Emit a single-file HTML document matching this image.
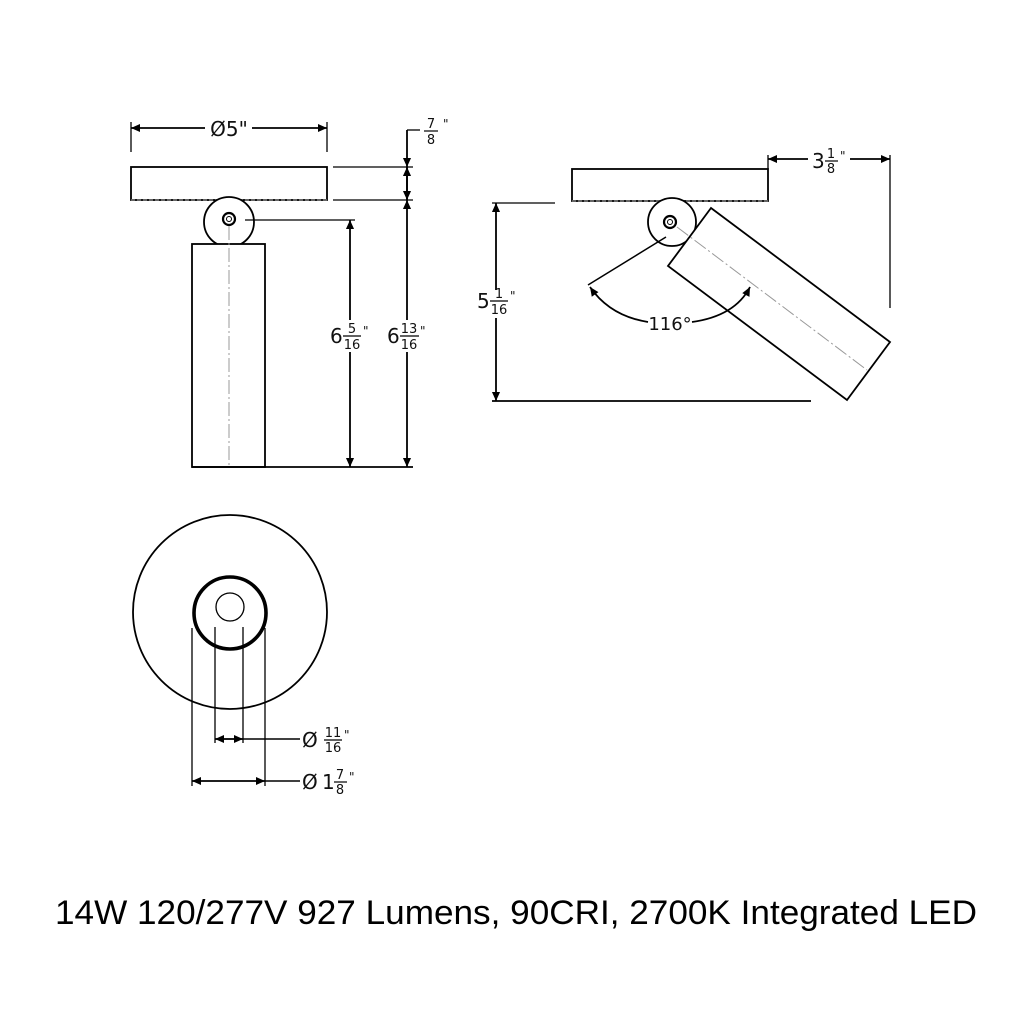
<!DOCTYPE html>
<html><head><meta charset="utf-8"><style>
html,body{margin:0;padding:0;background:#fff;}
svg{display:block}
.d{font-family:"DejaVu Sans","Liberation Sans",sans-serif;fill:#111}
</style></head><body>
<svg width="1024" height="1024" viewBox="0 0 1024 1024" xmlns="http://www.w3.org/2000/svg">
<defs>
<marker id="a" viewBox="0 0 10 10" refX="10" refY="5" markerWidth="13" markerHeight="9" orient="auto-start-reverse" markerUnits="userSpaceOnUse"><path d="M0,0.5 L10,5 L0,9.5 Z" fill="#000"/></marker>
</defs>
<rect width="1024" height="1024" fill="#fff"/>
<g stroke="#000" stroke-width="1.8" fill="none">
<!-- FRONT VIEW -->
<rect x="131" y="167" width="196" height="33"/>
<line x1="131" y1="200" x2="327" y2="200" stroke="#777" stroke-width="1.5" stroke-dasharray="4,2"/>
<circle cx="229" cy="222" r="25" fill="#fff"/>
<circle cx="229" cy="219" r="6" stroke-width="2.2"/>
<circle cx="229" cy="219" r="2.5" stroke-width="1"/>
<rect x="192" y="244" width="73" height="223" fill="#fff"/>
<line x1="229" y1="226" x2="229" y2="467" stroke="#999" stroke-width="1" stroke-dasharray="14,3,2,3"/>
<!-- top dim -->
<line x1="131" y1="122" x2="131" y2="152" stroke-width="1.3"/>
<line x1="327" y1="122" x2="327" y2="152" stroke-width="1.3"/>
<line x1="131" y1="128" x2="205" y2="128" marker-start="url(#a)"/>
<line x1="252" y1="128" x2="327" y2="128" marker-end="url(#a)"/>
<!-- right dims -->
<line x1="333" y1="167" x2="413" y2="167" stroke-width="1.3"/>
<line x1="333" y1="200" x2="413" y2="200" stroke-width="1.3"/>
<line x1="407" y1="130" x2="420" y2="130" stroke-width="1.3"/>
<line x1="407" y1="130" x2="407" y2="167" marker-end="url(#a)"/>
<line x1="407" y1="200" x2="407" y2="167" marker-end="url(#a)"/>
<line x1="407" y1="167" x2="407" y2="200" marker-end="url(#a)"/>
<line x1="407" y1="320" x2="407" y2="200" marker-end="url(#a)"/>
<line x1="407" y1="352" x2="407" y2="467" marker-end="url(#a)"/>
<line x1="245" y1="220" x2="355" y2="220" stroke-width="1.3"/>
<line x1="350" y1="320" x2="350" y2="220" marker-end="url(#a)"/>
<line x1="350" y1="352" x2="350" y2="467" marker-end="url(#a)"/>
<line x1="192" y1="467" x2="413" y2="467"/>
<!-- SIDE VIEW -->
<rect x="572" y="169" width="196" height="32"/>
<line x1="572" y1="201" x2="768" y2="201" stroke="#777" stroke-width="1.5" stroke-dasharray="4,2"/>
<circle cx="672" cy="222" r="24" fill="#fff"/>
<circle cx="670" cy="222" r="6" stroke-width="2.2"/>
<circle cx="670" cy="222" r="2.5" stroke-width="1"/>
<polygon points="711,208 890,342 847,400 668,266" fill="#fff"/>
<line x1="677" y1="227" x2="867" y2="370" stroke="#999" stroke-width="1" stroke-dasharray="14,3,2,3"/>
<line x1="768" y1="155" x2="768" y2="169" stroke-width="1.3"/>
<line x1="890" y1="155" x2="890" y2="308" stroke-width="1.3"/>
<line x1="808" y1="159" x2="768" y2="159" marker-end="url(#a)"/>
<line x1="850" y1="159" x2="890" y2="159" marker-end="url(#a)"/>
<line x1="492" y1="203" x2="555" y2="203" stroke-width="1.3"/>
<line x1="492" y1="401" x2="811" y2="401"/>
<line x1="496" y1="290" x2="496" y2="203" marker-end="url(#a)"/>
<line x1="496" y1="318" x2="496" y2="401" marker-end="url(#a)"/>
<line x1="666" y1="237" x2="588" y2="285" stroke-width="1.5"/>
<path d="M648,322 Q610,316 590,287" marker-end="url(#a)"/>
<path d="M692,322 Q735,316 750,287" marker-end="url(#a)"/>
<!-- BOTTOM VIEW -->
<circle cx="230" cy="612" r="97" stroke-width="1.8"/>
<circle cx="230" cy="613" r="36" stroke-width="3.6"/>
<circle cx="230" cy="607" r="14" stroke-width="1.3"/>
<line x1="192" y1="628" x2="192" y2="786" stroke-width="1.3"/>
<line x1="265" y1="628" x2="265" y2="786" stroke-width="1.3"/>
<line x1="215" y1="627" x2="215" y2="743" stroke-width="1.3"/>
<line x1="243" y1="627" x2="243" y2="743" stroke-width="1.3"/>
<line x1="229" y1="739" x2="215" y2="739" marker-end="url(#a)"/>
<line x1="229" y1="739" x2="243" y2="739" marker-end="url(#a)"/>
<line x1="243" y1="739" x2="300" y2="739" stroke-width="1.5"/>
<line x1="229" y1="781" x2="192" y2="781" marker-end="url(#a)"/>
<line x1="229" y1="781" x2="265" y2="781" marker-end="url(#a)"/>
<line x1="265" y1="781" x2="300" y2="781" stroke-width="1.5"/>
</g>
<g class="d">
<text x="229" y="136" font-size="20" text-anchor="middle">Ø5"</text>
<text x="431" y="128" font-size="13" text-anchor="middle">7</text>
<line x1="424" y1="131" x2="438" y2="131" stroke="#000" stroke-width="1.2"/>
<text x="431" y="144" font-size="13" text-anchor="middle">8</text>
<text x="443" y="128" font-size="12">"</text>
<text x="330" y="343" font-size="20">6</text>
<text x="352" y="333" font-size="13" text-anchor="middle">5</text>
<line x1="343" y1="336" x2="361" y2="336" stroke="#000" stroke-width="1.2"/>
<text x="352" y="349" font-size="13" text-anchor="middle">16</text>
<text x="363" y="335" font-size="12">"</text>
<text x="387" y="343" font-size="20">6</text>
<text x="409" y="333" font-size="13" text-anchor="middle">13</text>
<line x1="400" y1="336" x2="419" y2="336" stroke="#000" stroke-width="1.2"/>
<text x="409" y="349" font-size="13" text-anchor="middle">16</text>
<text x="420" y="335" font-size="12">"</text>
<text x="812" y="168" font-size="20">3</text>
<text x="831" y="158" font-size="13" text-anchor="middle">1</text>
<line x1="825" y1="161" x2="838" y2="161" stroke="#000" stroke-width="1.2"/>
<text x="831" y="173" font-size="13" text-anchor="middle">8</text>
<text x="840" y="160" font-size="12">"</text>
<text x="477" y="308" font-size="20">5</text>
<text x="499" y="298" font-size="13" text-anchor="middle">1</text>
<line x1="490" y1="301" x2="508" y2="301" stroke="#000" stroke-width="1.2"/>
<text x="499" y="314" font-size="13" text-anchor="middle">16</text>
<text x="510" y="300" font-size="12">"</text>
<text x="670" y="330" font-size="18" text-anchor="middle">116°</text>
<text x="302" y="747" font-size="20">Ø</text>
<text x="333" y="737" font-size="13" text-anchor="middle">11</text>
<line x1="324" y1="740" x2="342" y2="740" stroke="#000" stroke-width="1.2"/>
<text x="333" y="752" font-size="13" text-anchor="middle">16</text>
<text x="344" y="739" font-size="12">"</text>
<text x="302" y="789" font-size="20">Ø</text>
<text x="322" y="789" font-size="20">1</text>
<text x="340" y="779" font-size="13" text-anchor="middle">7</text>
<line x1="334" y1="782" x2="347" y2="782" stroke="#000" stroke-width="1.2"/>
<text x="340" y="794" font-size="13" text-anchor="middle">8</text>
<text x="349" y="781" font-size="12">"</text>
</g>
<text x="55" y="924" font-family="Liberation Sans, Arial, sans-serif" font-size="34" textLength="922" lengthAdjust="spacingAndGlyphs" fill="#000">14W 120/277V 927 Lumens, 90CRI, 2700K Integrated LED</text>
</svg>
</body></html>
